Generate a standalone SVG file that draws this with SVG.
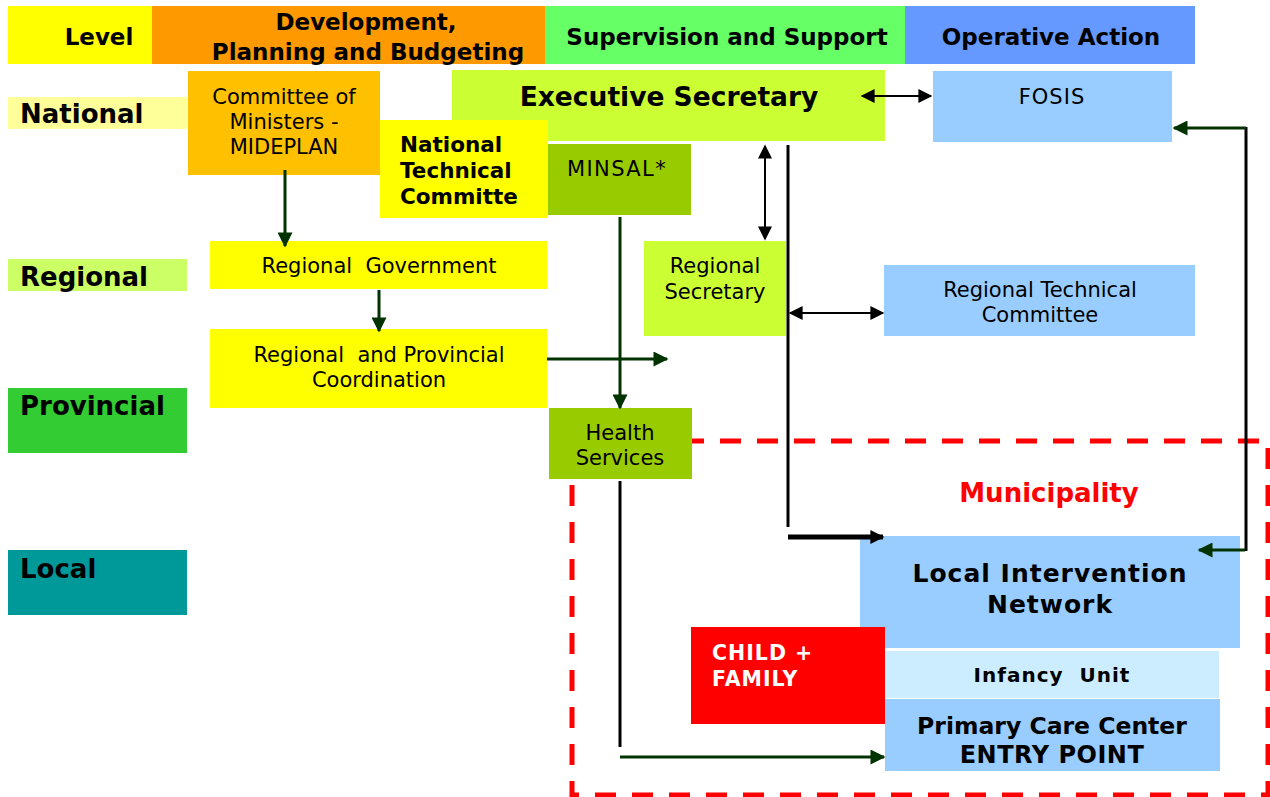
<svg xmlns="http://www.w3.org/2000/svg" width="1270" height="797" viewBox="0 0 1270 797">
<style>
text{font-family:"DejaVu Sans","Liberation Sans",sans-serif;fill:#000;white-space:pre}
.h{font-weight:bold;font-size:23px;text-anchor:middle}
.lv{font-weight:bold;font-size:26px}
.n{font-size:21px;text-anchor:middle}
.b{font-weight:bold;font-size:21.5px}
.g{stroke:#003300;stroke-width:3;fill:none}
.k{stroke:#000;stroke-width:2;fill:none}
.k3{stroke:#000;stroke-width:3;fill:none}
</style>
<defs>
<marker id="agb" viewBox="0 0 10 10" refX="9" refY="5" markerWidth="18" markerHeight="15" markerUnits="userSpaceOnUse" orient="auto"><path d="M0,0L10,5L0,10z" fill="#003300"/></marker>
<marker id="ak" viewBox="0 0 10 10" refX="9" refY="5" markerWidth="16" markerHeight="14" markerUnits="userSpaceOnUse" orient="auto-start-reverse"><path d="M0,0L10,5L0,10z" fill="#000"/></marker>
</defs>
<rect width="1270" height="797" fill="#fff"/>
<g id="header">
<rect x="8" y="6" width="144" height="58" fill="#FFFF00"/>
<text class="h" x="99" y="45">Level</text>
<rect x="152" y="6" width="393" height="58" fill="#FF9900"/>
<text class="h" x="366" y="30">Development,</text>
<text class="h" x="368" y="60">Planning and Budgeting</text>
<rect x="545" y="6" width="360" height="58" fill="#66FF66"/>
<text class="h" x="727" y="45">Supervision and Support</text>
<rect x="905" y="6" width="290" height="58" fill="#6699FF"/>
<text class="h" x="1051" y="45">Operative Action</text>
</g>
<g id="levels">
<rect x="8" y="97" width="179" height="32" fill="#FFFF99"/>
<text class="lv" x="20" y="123">National</text>
<rect x="8" y="259" width="179" height="32" fill="#CCFF66"/>
<text class="lv" x="20" y="286">Regional</text>
<rect x="8" y="388" width="179" height="65" fill="#33CC33"/>
<text class="lv" x="20" y="415">Provincial</text>
<rect x="8" y="550" width="179" height="65" fill="#009999"/>
<text class="lv" x="20" y="578">Local</text>
</g>
<rect x="572" y="441" width="696" height="354" fill="none" stroke="#FF0000" stroke-width="5" stroke-dasharray="21 16"/>
<text x="1049" y="502" font-weight="bold" font-size="26" text-anchor="middle" style="fill:#FF0000">Municipality</text>
<g id="committee">
<rect x="188" y="71" width="192" height="104" fill="#FFC000"/>
<text class="n" x="284" y="104">Committee of</text>
<text class="n" x="284" y="129">Ministers -</text>
<text class="n" x="284" y="154">MIDEPLAN</text>
</g>
<g id="exec">
<rect x="452" y="70" width="433" height="71" fill="#CCFF33"/>
<text x="669" y="106" font-weight="bold" font-size="26.5" text-anchor="middle">Executive Secretary</text>
</g>
<g id="ntc">
<rect x="380" y="120" width="168" height="98" fill="#FFFF00"/>
<text class="b" x="400" y="152">National</text>
<text class="b" x="400" y="178">Technical</text>
<text class="b" x="400" y="204">Committe</text>
</g>
<g id="minsal">
<rect x="548" y="144" width="143" height="71" fill="#99CC00"/>
<text class="n" x="567" y="176" letter-spacing="1.4" style="text-anchor:start">MINSAL*</text>
</g>
<g id="fosis">
<rect x="933" y="71" width="239" height="71" fill="#99CCFF"/>
<text class="n" x="1052" y="104" letter-spacing="1">FOSIS</text>
</g>
<g id="reggov">
<rect x="210" y="241" width="337" height="48" fill="#FFFF00"/>
<text class="n" x="379" y="273">Regional  Government</text>
</g>
<g id="regsec">
<rect x="644" y="241" width="142" height="95" fill="#CCFF33"/>
<text class="n" x="715" y="273">Regional</text>
<text class="n" x="715" y="299">Secretary</text>
</g>
<g id="rtc">
<rect x="884" y="265" width="311" height="71" fill="#99CCFF"/>
<text class="n" x="1040" y="297">Regional Technical</text>
<text class="n" x="1040" y="322">Committee</text>
</g>
<g id="rpc">
<rect x="210" y="329" width="337" height="79" fill="#FFFF00"/>
<text class="n" x="379" y="362">Regional  and Provincial</text>
<text class="n" x="379" y="387">Coordination</text>
</g>
<g id="health">
<rect x="549" y="408" width="143" height="71" fill="#99CC00"/>
<text class="n" x="620" y="440">Health</text>
<text class="n" x="620" y="465">Services</text>
</g>
<g id="lin">
<rect x="860" y="536" width="380" height="112" fill="#99CCFF"/>
<text x="1050" y="582" font-weight="bold" font-size="25" text-anchor="middle" letter-spacing="1">Local Intervention</text>
<text x="1050" y="613" font-weight="bold" font-size="25" text-anchor="middle" letter-spacing="1">Network</text>
</g>
<g id="child">
<rect x="691" y="627" width="194" height="97" fill="#FF0000"/>
<text x="712" y="660" font-weight="bold" font-size="20.5" letter-spacing="1" style="fill:#fff">CHILD +</text>
<text x="712" y="686" font-weight="bold" font-size="20.5" letter-spacing="1" style="fill:#fff">FAMILY</text>
</g>
<g id="infancy">
<rect x="885" y="651" width="334" height="47" fill="#CCECFF"/>
<text x="1052" y="682" font-weight="bold" font-size="20" text-anchor="middle" letter-spacing="1">Infancy  Unit</text>
</g>
<g id="pcc">
<rect x="885" y="699" width="335" height="72" fill="#99CCFF"/>
<text x="1052" y="734" font-weight="bold" font-size="23.5" text-anchor="middle">Primary Care Center</text>
<text x="1052" y="763" font-weight="bold" font-size="24" text-anchor="middle" letter-spacing="0.5">ENTRY POINT</text>
</g>
<g id="connectors">
<line class="k" x1="862" y1="96" x2="931" y2="96" marker-start="url(#ak)" marker-end="url(#ak)"/>
<line class="k" x1="765" y1="146" x2="765" y2="239" marker-start="url(#ak)" marker-end="url(#ak)"/>
<line class="k3" x1="788" y1="145" x2="788" y2="527"/>
<line stroke="#000" stroke-width="5" x1="788" y1="537" x2="883" y2="537" marker-end="url(#ak)"/>
<line class="k" x1="790" y1="313" x2="883" y2="313" marker-start="url(#ak)" marker-end="url(#ak)"/>
<line class="k3" x1="1246" y1="127" x2="1246" y2="551"/>
<line class="g" x1="1246" y1="128" x2="1174" y2="128" marker-end="url(#agb)"/>
<line class="g" x1="1245" y1="550" x2="1199" y2="550" marker-end="url(#agb)"/>
<line class="g" x1="285" y1="170" x2="285" y2="246" marker-end="url(#agb)"/>
<line class="g" x1="379" y1="290" x2="379" y2="331" marker-end="url(#agb)"/>
<line class="g" x1="547" y1="359" x2="667" y2="359" marker-end="url(#agb)"/>
<line class="g" x1="620" y1="217" x2="620" y2="408" marker-end="url(#agb)"/>
<line class="k3" x1="620" y1="481" x2="620" y2="747"/>
<line class="g" x1="620" y1="757" x2="884" y2="757" marker-end="url(#agb)"/>
</g>
</svg>
